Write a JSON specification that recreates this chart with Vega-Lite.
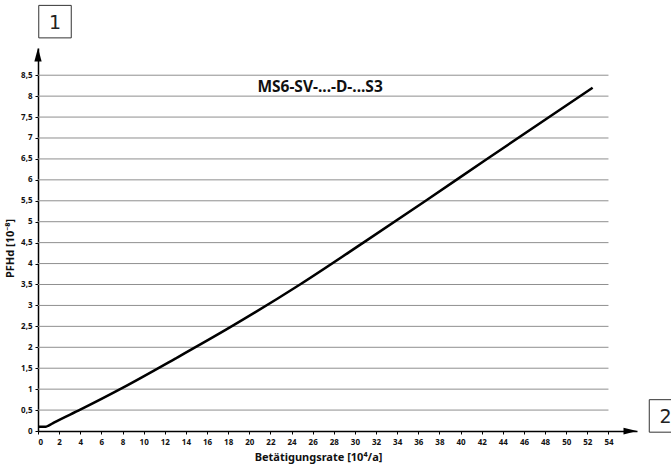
{
  "$schema": "https://vega.github.io/schema/vega-lite/v6.json",
  "width": 599,
  "height": 383,
  "autosize": {"type": "none"},
  "padding": {"left": 38, "top": 48, "right": 34, "bottom": 35},
  "background": "white",
  "config": {
    "view": {"stroke": null},
    "font": "Noto Sans",
    "axis": {"labelOverlap": false, "labelSeparation": 0}
  },
  "datasets": {
    "curve": [
      {"rate": 0, "pfh": 0.1},
      {"rate": 0.7, "pfh": 0.1},
      {"rate": 1.0, "pfh": 0.13},
      {"rate": 1.5, "pfh": 0.2},
      {"rate": 4, "pfh": 0.51},
      {"rate": 8, "pfh": 1.03},
      {"rate": 13, "pfh": 1.73},
      {"rate": 18.2, "pfh": 2.48},
      {"rate": 24.8, "pfh": 3.5},
      {"rate": 30.8, "pfh": 4.5},
      {"rate": 36.7, "pfh": 5.5},
      {"rate": 42.5, "pfh": 6.5},
      {"rate": 52.5, "pfh": 8.2}
    ],
    "grid": [
      {"pfh": 0.5, "rate": 0, "rate_end": 54}, {"pfh": 1, "rate": 0, "rate_end": 54},
      {"pfh": 1.5, "rate": 0, "rate_end": 54}, {"pfh": 2, "rate": 0, "rate_end": 54},
      {"pfh": 2.5, "rate": 0, "rate_end": 54}, {"pfh": 3, "rate": 0, "rate_end": 54},
      {"pfh": 3.5, "rate": 0, "rate_end": 54}, {"pfh": 4, "rate": 0, "rate_end": 54},
      {"pfh": 4.5, "rate": 0, "rate_end": 54}, {"pfh": 5, "rate": 0, "rate_end": 54},
      {"pfh": 5.5, "rate": 0, "rate_end": 54}, {"pfh": 6, "rate": 0, "rate_end": 54},
      {"pfh": 6.5, "rate": 0, "rate_end": 54}, {"pfh": 7, "rate": 0, "rate_end": 54},
      {"pfh": 7.5, "rate": 0, "rate_end": 54}, {"pfh": 8, "rate": 0, "rate_end": 54},
      {"pfh": 8.5, "rate": 0, "rate_end": 54}
    ],
    "boxes": [
      {"rate": 1.61, "pfh": 9.78, "label": "1"},
      {"rate": 59.4, "pfh": 0.36, "label": "2"}
    ]
  },
  "encoding": {
    "y": {
      "field": "pfh", "type": "quantitative",
      "scale": {"domain": [0, 9.15], "nice": false, "zero": true},
      "axis": {
        "values": [0, 0.5, 1, 1.5, 2, 2.5, 3, 3.5, 4, 4.5, 5, 5.5, 6, 6.5, 7, 7.5, 8, 8.5],
        "labelExpr": "replace(toString(datum.value), '.', ',')",
        "labelOverlap": false,
        "grid": false,
        "domainColor": "black", "domainWidth": 1.5,
        "tickColor": "black", "tickSize": 3, "tickWidth": 1,
        "labelFont": "Noto Sans", "labelFontWeight": "bold", "labelFontSize": 8,
        "labelColor": "#111", "labelPadding": 3,
        "title": "PFHd [10⁻⁸]",
        "titleFont": "Noto Sans", "titleFontWeight": "bold", "titleFontSize": 11,
        "titleColor": "#111", "titleAngle": -90,
        "titleX": -28, "titleY": 200, "titleAlign": "center", "titleBaseline": "middle"
      }
    },
    "x": {
      "field": "rate", "type": "quantitative",
      "scale": {"domain": [0, 56.7], "nice": false, "zero": true},
      "axis": {
        "values": [0, 2, 4, 6, 8, 10, 12, 14, 16, 18, 20, 22, 24, 26, 28, 30, 32, 34, 36, 38, 40, 42, 44, 46, 48, 50, 52, 54],
        "labelOverlap": false,
        "grid": false,
        "domainColor": "black", "domainWidth": 1.5,
        "tickColor": "black", "tickSize": 3, "tickWidth": 1,
        "labelFont": "Noto Sans", "labelFontWeight": "bold", "labelFontSize": 8,
        "labelColor": "#111", "labelPadding": 4,
        "title": "Betätigungsrate [10⁴/a]",
        "titleFont": "Noto Sans", "titleFontWeight": "bold", "titleFontSize": 11,
        "titleColor": "#111",
        "titleX": 280, "titleY": 26, "titleAlign": "center", "titleBaseline": "middle"
      }
    }
  },
  "layer": [
    {
      "data": {"name": "grid"},
      "mark": {"type": "rule", "color": "#8f8f8f", "strokeWidth": 1},
      "encoding": {
        "x2": {"field": "rate_end"}
      }
    },
    {
      "data": {"name": "curve"},
      "mark": {"type": "line", "color": "black", "strokeWidth": 2.5, "interpolate": "monotone"}
    },
    {
      "data": {"values": [{"rate": 56.7, "pfh": 0}]},
      "mark": {"type": "point", "shape": "M0,0L-1,-0.25L-1,0.25Z", "size": 729, "filled": true, "color": "black", "opacity": 1}
    },
    {
      "data": {"values": [{"rate": 0, "pfh": 9.15}]},
      "mark": {"type": "point", "shape": "M0,0L-0.27,1L0.27,1Z", "size": 729, "filled": true, "color": "black", "opacity": 1}
    },
    {
      "data": {"values": [{"rate": 26.7, "pfh": 8.22, "t": "MS6-SV-...-D-...S3"}]},
      "mark": {"type": "text", "font": "Noto Sans", "fontWeight": "bold", "fontSize": 15.5, "color": "#111", "align": "center", "baseline": "middle"},
      "encoding": {"text": {"field": "t"}}
    },
    {
      "data": {"name": "boxes"},
      "mark": {"type": "square", "size": 1056, "filled": false, "color": "#333", "strokeWidth": 1, "opacity": 1}
    },
    {
      "data": {"name": "boxes"},
      "mark": {"type": "text", "font": "DejaVu Sans", "fontSize": 19, "color": "#222", "align": "center", "baseline": "middle", "dy": 1},
      "encoding": {"text": {"field": "label"}}
    }
  ]
}
